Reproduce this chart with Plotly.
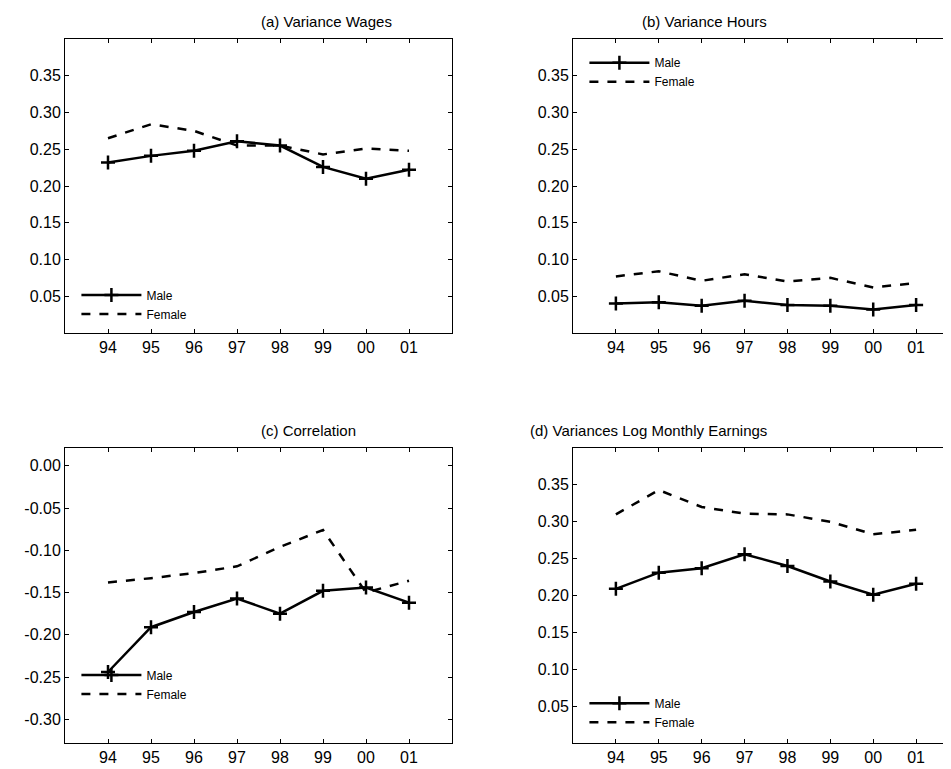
import plotly.graph_objects as go

years = ["94", "95", "96", "97", "98", "99", "00", "01"]
xs = list(range(len(years)))

wages_male = [0.232, 0.241, 0.248, 0.261, 0.255, 0.226, 0.210, 0.222]
wages_female = [0.265, 0.284, 0.275, 0.255, 0.255, 0.243, 0.251, 0.248]
hours_male = [0.040, 0.042, 0.037, 0.044, 0.038, 0.037, 0.032, 0.038]
hours_female = [0.077, 0.084, 0.071, 0.080, 0.070, 0.075, 0.062, 0.068]
corr_male = [-0.244, -0.191, -0.173, -0.157, -0.175, -0.148, -0.144, -0.162]
corr_female = [-0.138, -0.133, -0.127, -0.119, -0.096, -0.076, -0.150, -0.136]
earn_male = [0.209, 0.231, 0.237, 0.256, 0.240, 0.219, 0.201, 0.216]
earn_female = [0.310, 0.343, 0.320, 0.311, 0.310, 0.300, 0.283, 0.289]

titles = ["(a) Variance Wages", "(b) Variance Hours", "(c) Correlation",
          "(d) Variances Log Monthly Earnings"]
W, H = 951, 769
OFF = 8  # page offset seen in the screenshot
xdom = [[(65 - OFF) / W, (452 - OFF) / W], [(573 - OFF) / W, 1.0]]
ydom = [[1 - (333 - OFF) / H, 1 - (39 - OFF) / H], [1 - (743 - OFF) / H, 1 - (448 - OFF) / H]]
yt_pos = [0.05, 0.10, 0.15, 0.20, 0.25, 0.30, 0.35]
# legend anchor: (side, offset in paper units)
panels = [
    (wages_male, wages_female, 0, 0, [0, 0.4], yt_pos, ("bottom", 0.006)),
    (hours_male, hours_female, 1, 0, [0, 0.4], yt_pos, ("top", -0.012)),
    (corr_male, corr_female, 0, 1, [-0.328, 0.021], [-0.30, -0.25, -0.20, -0.15, -0.10, -0.05, 0.00], ("bottom", 0.045)),
    (earn_male, earn_female, 1, 1, [0, 0.4], yt_pos, ("bottom", 0.008)),
]

fig = go.Figure()
font = dict(family="Liberation Sans, Arial", size=16, color="black")
layout = {}
for i, (m, f, col, row, yr, yt, lpos) in enumerate(panels):
    n = "" if i == 0 else str(i + 1)
    leg = "legend" + n
    fig.add_trace(go.Scatter(x=xs, y=m, name="Male", mode="lines+markers",
                             line=dict(color="black", width=2.5),
                             marker=dict(symbol="cross-thin", size=10, line=dict(color="black", width=2.5)),
                             xaxis="x" + n, yaxis="y" + n, legend=leg))
    fig.add_trace(go.Scatter(x=xs, y=f, name="Female", mode="lines",
                             line=dict(color="black", width=2.5, dash="dash"),
                             xaxis="x" + n, yaxis="y" + n, legend=leg))
    ax = dict(showgrid=False, zeroline=False, showline=True, linecolor="black", linewidth=1,
              mirror="ticks", ticks="inside", ticklen=4, tickcolor="black", tickfont=font)
    layout["xaxis" + n] = dict(ax, domain=xdom[col], range=[-1, 8], tickvals=xs, ticktext=years,
                               anchor="y" + n)
    layout["yaxis" + n] = dict(ax, domain=ydom[row], range=yr, tickvals=yt,
                               ticktext=[f"{v:.2f}" for v in yt], anchor="x" + n)
    x0, x1 = xdom[col]
    y0, y1 = ydom[row]
    side, off = lpos
    if side == "bottom":
        ly = y0 + off
    else:
        ly = y1 + off
    layout[leg] = dict(x=x0 + 0.012, y=ly, xanchor="left", yanchor=side,
                       bgcolor="rgba(0,0,0,0)", tracegroupgap=0, itemwidth=60,
                       font=dict(family="Liberation Sans, Arial", size=12, color="black"))
    fig.add_annotation(text=titles[i], x=(x0 + 958 / W) / 2 if col == 1 else (x0 + x1) / 2,
                       y=y1, xref="paper", yref="paper", yanchor="bottom", yshift=7,
                       showarrow=False, font=dict(family="Liberation Sans, Arial", size=15, color="black"))

fig.update_layout(width=W, height=H, margin=dict(l=0, r=0, t=0, b=0),
                  plot_bgcolor="white", paper_bgcolor="white", showlegend=True, **layout)
fig.write_html("out.html")
